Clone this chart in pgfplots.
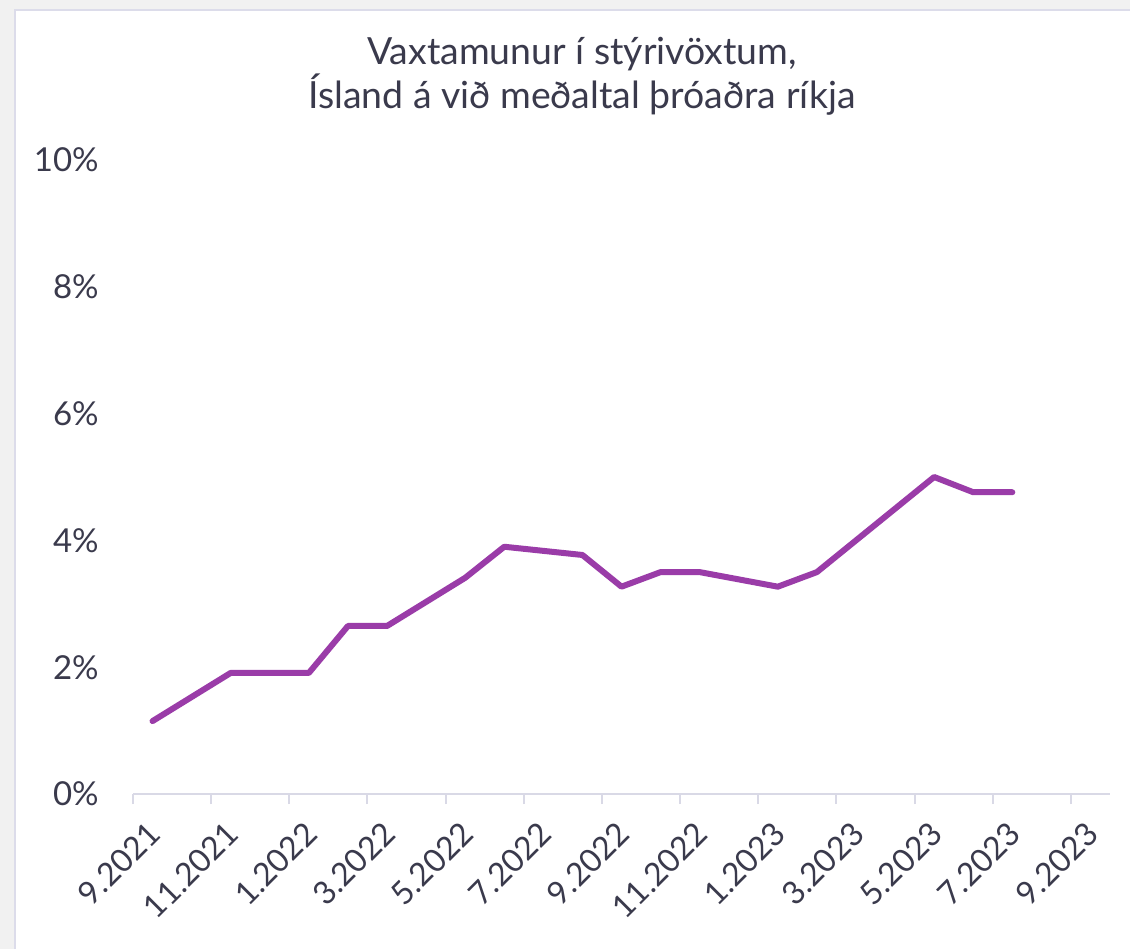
\documentclass[border=0pt]{standalone}
\usepackage{pgfplots}
\pgfplotsset{compat=1.18}
\usepackage{fontspec}
\setmainfont{Lato}

\definecolor{txt}{HTML}{3A3A4C}
\definecolor{linepurple}{HTML}{9A3CA8}
\definecolor{axisgray}{HTML}{D9D9E6}
\definecolor{bggray}{HTML}{F1F1F1}
\definecolor{framelav}{HTML}{DCDCEA}

\begin{document}
\begin{tikzpicture}
% panel background (1px = 0.5pt)
\useasboundingbox (0pt,0pt) rectangle (565pt,474.5pt);
\fill[bggray] (0pt,0pt) rectangle (565pt,474.5pt);
\fill[white] (7.5pt,0pt) rectangle (565pt,469.5pt);
\draw[framelav, line width=1.2pt] (7.5pt,0pt) -- (7.5pt,469.5pt) -- (565pt,469.5pt);

% title
\node[anchor=base, text=txt, font=\fontsize{18.7}{22}\selectfont] at (291pt,442pt) {Vaxtamunur í stýrivöxtum,};
\node[anchor=base, text=txt, font=\fontsize{18.7}{22}\selectfont] at (291pt,420pt) {Ísland á við meðaltal þróaðra ríkja};

\begin{axis}[
    at={(66.5pt,77.5pt)}, anchor=south west,
    scale only axis,
    width=488.5pt, height=317pt,
    xmin=0, xmax=25,
    ymin=0, ymax=10,
    axis x line=bottom,
    axis y line=left,
    x axis line style={-, draw=axisgray, line width=1pt},
    y axis line style={draw=none},
    tick align=outside,
    major tick length=5pt,
    xtick={0,2,...,24},
    xticklabels={9.2021,11.2021,1.2022,3.2022,5.2022,7.2022,9.2022,11.2022,1.2023,3.2023,5.2023,7.2023,9.2023},
    x tick style={draw=axisgray, line width=1pt},
    ytick={0,2,...,10},
    yticklabels={0\%,2\%,4\%,6\%,8\%,10\%},
    y tick style={draw=none},
    xticklabel style={font=\fontsize{16}{19}\selectfont, text=txt, inner sep=0pt,
        xshift=11pt, yshift=-12pt, rotate=45, anchor=east},
    yticklabel style={font=\fontsize{16.5}{19}\selectfont, text=txt, inner sep=0pt,
        anchor=east, xshift=-12pt},
    grid=none,
    clip=false,
]
    \addplot[linepurple, line width=3pt, line join=round, line cap=round] coordinates {
        (0.5,1.15) (2.5,1.91) (4.5,1.91) (5.5,2.65) (6.5,2.65) (8.5,3.41)
        (9.5,3.90) (11.5,3.77) (12.5,3.27) (13.5,3.50) (14.5,3.50) (16.5,3.27)
        (17.5,3.50) (20.5,5.00) (21.5,4.76) (22.5,4.76)
    };
\end{axis}
\end{tikzpicture}
\end{document}
